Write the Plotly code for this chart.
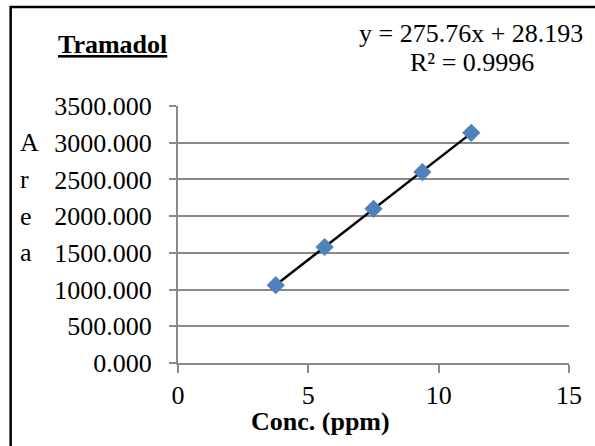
import plotly.graph_objects as go

# Calibration standards for tramadol
conc_ppm = [3.75, 5.625, 7.5, 9.375, 11.25]
peak_area = [1060, 1580, 2100, 2600, 3135]

# Linear fit reported on the chart
slope = 275.76
intercept = 28.193
r_squared = 0.9996

x_ticks = [0, 5, 10, 15]
y_ticks = [0, 500, 1000, 1500, 2000, 2500, 3000, 3500]

SERIF = "Liberation Serif, Times New Roman, serif"
GRID = "#8a8a8a"
BLUE = "#4F81BD"

fit_x = [min(conc_ppm), max(conc_ppm)]
fit_y = [slope * v + intercept for v in fit_x]

fig = go.Figure()
fig.add_trace(go.Scatter(
    x=fit_x, y=fit_y, mode="lines",
    line=dict(color="black", width=2.5),
    hoverinfo="skip", showlegend=False,
))
fig.add_trace(go.Scatter(
    x=conc_ppm, y=peak_area, mode="markers",
    marker=dict(symbol="diamond", size=14, color=BLUE, line=dict(width=0)),
    showlegend=False,
))

fig.update_layout(
    width=595, height=446,
    margin=dict(l=178, r=26, t=106, b=83),
    paper_bgcolor="white", plot_bgcolor="white",
    font=dict(family=SERIF, size=26, color="black"),
    showlegend=False,
)

fig.update_xaxes(
    range=[0, 15], tickvals=x_ticks, ticktext=[str(v) for v in x_ticks],
    showgrid=False, zeroline=False,
    showline=True, linecolor=GRID, linewidth=2,
    ticks="outside", ticklen=8, tickcolor=GRID, tickwidth=2,
    tickfont=dict(family=SERIF, size=26, color="black"),
)
fig.update_yaxes(
    range=[0, 3500], tickvals=y_ticks,
    ticktext=[f"{v:.3f}" for v in y_ticks],
    showgrid=True, gridcolor=GRID, gridwidth=2, zeroline=False,
    showline=True, linecolor=GRID, linewidth=2,
    ticks="outside", ticklen=7, tickcolor=GRID, tickwidth=2,
    ticklabelstandoff=12,
    tickfont=dict(family=SERIF, size=26, color="black"),
)

annotations = [
    dict(text="Tramadol", x=0, y=1, xref="paper", yref="paper",
         xanchor="left", yanchor="middle", xshift=-122, yshift=62,
         font=dict(family=SERIF, size=26, weight="bold", lineposition="under")),
    dict(text=f"y = {slope}x + {intercept}", x=0, y=1, xref="paper", yref="paper",
         xanchor="center", yanchor="middle", xshift=293, yshift=73,
         font=dict(family=SERIF, size=26)),
    dict(text=f"R² = {r_squared}", x=0, y=1, xref="paper", yref="paper",
         xanchor="center", yanchor="middle", xshift=294, yshift=44,
         font=dict(family=SERIF, size=26)),
    dict(text="<b>Conc. (ppm)</b>", x=0, y=0, xref="paper", yref="paper",
         xanchor="center", yanchor="middle", xshift=142, yshift=-58,
         font=dict(family=SERIF, size=26)),
]
# Vertical axis title, one letter per row
for letter, yv in zip("Area", [3000, 2500, 2000, 1500]):
    annotations.append(dict(
        text=letter, x=0, y=yv, xref="paper", yref="y",
        xanchor="left", yanchor="middle", xshift=-160,
        font=dict(family=SERIF, size=26),
    ))
for a in annotations:
    a["showarrow"] = False
fig.update_layout(annotations=annotations)

# Chart frame (top and left edges fall inside the page)
fig.add_shape(type="rect", xref="paper", yref="paper",
              x0=-0.428, x1=1.3, y0=-0.6, y1=1.385,
              line=dict(color="black", width=2.5), fillcolor="rgba(0,0,0,0)")

fig.write_html("out.html")
